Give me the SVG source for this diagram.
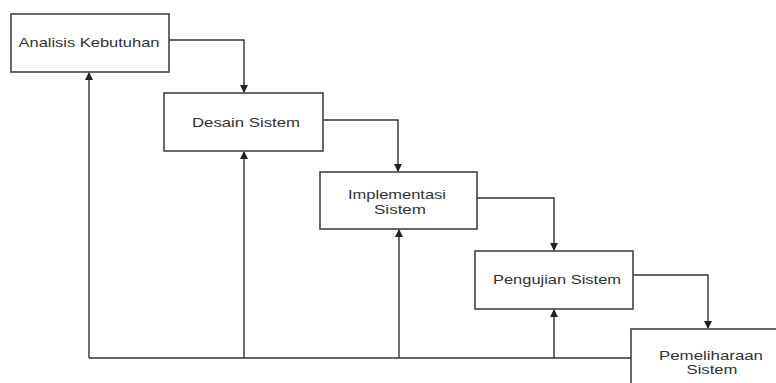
<svg xmlns="http://www.w3.org/2000/svg" width="776" height="383" viewBox="0 0 776 383">
<style>
.box{fill:#fff;stroke:#444;stroke-width:1.6}
.lbl{font-family:"Liberation Sans",Arial,sans-serif;font-size:13px;fill:#333;text-anchor:middle}
.ln{fill:none;stroke:#333;stroke-width:1.4}
</style>
<defs>
<marker id="ah" markerWidth="8" markerHeight="8" refX="7" refY="4" orient="auto" markerUnits="userSpaceOnUse">
<path d="M0,0 L8,4 L0,8 Z" fill="#222"/>
</marker>
</defs>
<rect width="776" height="383" fill="#fff"/>
<g id="connectors">
<path class="ln" d="M169,40 H244 V92" marker-end="url(#ah)"/>
<path class="ln" d="M323,120 H398 V171" marker-end="url(#ah)"/>
<path class="ln" d="M477,198 H554 V250" marker-end="url(#ah)"/>
<path class="ln" d="M633,275 H708 V328" marker-end="url(#ah)"/>
<path class="ln" d="M631,358 H89"/>
<path class="ln" d="M89,358 V73" marker-end="url(#ah)"/>
<path class="ln" d="M244,358 V152" marker-end="url(#ah)"/>
<path class="ln" d="M399,358 V230" marker-end="url(#ah)"/>
<path class="ln" d="M554,358 V310" marker-end="url(#ah)"/>
</g>
<g id="analisis">
<rect class="box" x="11" y="14" width="158" height="58"/>
<text class="lbl" x="89" y="47" textLength="141" lengthAdjust="spacingAndGlyphs">Analisis Kebutuhan</text>
</g>
<g id="desain">
<rect class="box" x="164" y="93" width="159" height="58"/>
<text class="lbl" x="246" y="127" textLength="108" lengthAdjust="spacingAndGlyphs">Desain Sistem</text>
</g>
<g id="implementasi">
<rect class="box" x="320" y="172" width="157" height="57"/>
<text class="lbl" x="397" y="199" textLength="98" lengthAdjust="spacingAndGlyphs">Implementasi</text>
<text class="lbl" x="400" y="214" textLength="52" lengthAdjust="spacingAndGlyphs">Sistem</text>
</g>
<g id="pengujian">
<rect class="box" x="475" y="251" width="158" height="58"/>
<text class="lbl" x="557" y="284" textLength="128" lengthAdjust="spacingAndGlyphs">Pengujian Sistem</text>
</g>
<g id="pemeliharaan">
<rect class="box" x="631" y="329" width="200" height="100"/>
<text class="lbl" x="711" y="360" textLength="104" lengthAdjust="spacingAndGlyphs">Pemeliharaan</text>
<text class="lbl" x="712" y="374" textLength="51" lengthAdjust="spacingAndGlyphs">Sistem</text>
</g>
</svg>
